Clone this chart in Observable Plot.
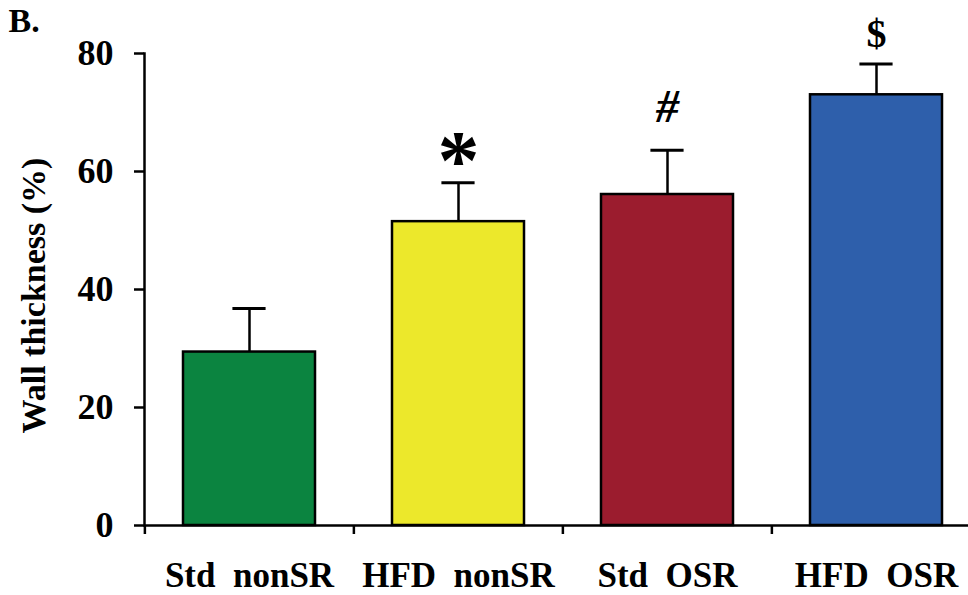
<!DOCTYPE html>
<html>
<head>
<meta charset="utf-8">
<script src="https://cdn.jsdelivr.net/npm/d3@7"></script>
<script src="https://cdn.jsdelivr.net/npm/@observablehq/plot@0.6"></script>
<style>
  html, body { margin: 0; padding: 0; background: #fff; }
  #chart svg { display: block; }
</style>
</head>
<body>
<div id="chart"></div>
<script>
// ---- data ----
const groups  = ["Std  nonSR", "HFD  nonSR", "Std  OSR", "HFD  OSR"];
const means   = [29.4, 51.5, 56.1, 73.0];
const errors  = [7.4, 6.6, 7.5, 5.2];
const colors  = ["#0b8440", "#ece82b", "#9b1c2e", "#2e5fab"];
const markers = ["", "*", "#", "$"];
const yTicks  = [0, 20, 40, 60, 80];
const yTitle  = "Wall thickness (%)";
const panel   = "B.";

const data = groups.map((g, i) => ({
  group: g, mean: means[i], err: errors[i], top: means[i] + errors[i],
  color: colors[i], marker: markers[i]
}));

const W = 968, H = 595;
const xRange = [144, 981];
const padIn = 0.37, padOut = 0.185;
const step = d3.scaleBand().domain(groups).range(xRange)
  .paddingInner(padIn).paddingOuter(padOut).step();
const bw = step * (1 - padIn);
const capW = 33;
const serif = "'Liberation Serif', 'Times New Roman', serif";
const nb = s => s.replace(/ /g, "\u00a0");

const markerStyle = {
  "*": {fontSize: 84, dy: 6, fontStyle: "normal"},
  "#": {fontSize: 46, dy: -28, fontStyle: "italic"},
  "$": {fontSize: 40, dy: -17, fontStyle: "normal"}
};

const chart = Plot.plot({
  width: W,
  height: H,
  marginLeft: 144,
  marginRight: 0,
  marginTop: 53,
  marginBottom: 70,
  style: {fontFamily: serif, fontWeight: "bold", fontSize: "35px", color: "#000", background: "#fff", overflow: "visible"},
  x: {domain: groups, range: xRange, paddingInner: padIn, paddingOuter: padOut, align: 0.5},
  y: {domain: [0, 80]},
  marks: [
    Plot.barY(data, {x: "group", y: "mean", fill: "color", stroke: "#000", strokeWidth: 2.5}),
    Plot.ruleX(data, {x: "group", y1: "mean", y2: "top", stroke: "#000", strokeWidth: 2.5}),
    Plot.tickY(data, {x: "group", y: "top", stroke: "#000", strokeWidth: 3,
      insetLeft: (bw - capW) / 2, insetRight: (bw - capW) / 2}),
    ...Object.entries(markerStyle).map(([m, s]) =>
      Plot.text(data.filter(d => d.marker === m), {
        x: "group", y: "top", text: "marker", lineAnchor: "bottom",
        fontSize: s.fontSize, dy: s.dy, fontStyle: s.fontStyle,
        fontFamily: serif, fontWeight: "bold", fill: "#000"
      })),
    Plot.frame({anchor: "left", stroke: "#000", strokeWidth: 2.5}),
    Plot.ruleY([0], {stroke: "#000", strokeWidth: 2.5}),
    Plot.ruleX(groups, {x: d => d, y1: 0, y2: 0, insetBottom: -9, dx: -step / 2, stroke: "#000", strokeWidth: 2.5}),
    Plot.axisY({ticks: yTicks, tickSize: 10, tickPadding: 21, strokeWidth: 2.5,
      fontSize: 36, fontWeight: "bold", fontFamily: serif, label: null}),
    Plot.axisX({tickSize: 0, tickPadding: 37, fontSize: 35, fontWeight: "bold", fontFamily: serif,
      tickFormat: nb, label: null}),
    Plot.text([yTitle], {frameAnchor: "left", rotate: -90, textAnchor: "middle", lineAnchor: "bottom",
      dx: -100, dy: 6, fontSize: 34, fontWeight: "bold", fontFamily: serif, fill: "#000"}),
    Plot.text([panel], {frameAnchor: "top-left", textAnchor: "start", lineAnchor: "bottom",
      dx: -136, dy: -22, fontSize: 34, fontWeight: "bold", fontFamily: serif, fill: "#000"})
  ]
});
document.getElementById("chart").appendChild(chart);
</script>
</body>
</html>
